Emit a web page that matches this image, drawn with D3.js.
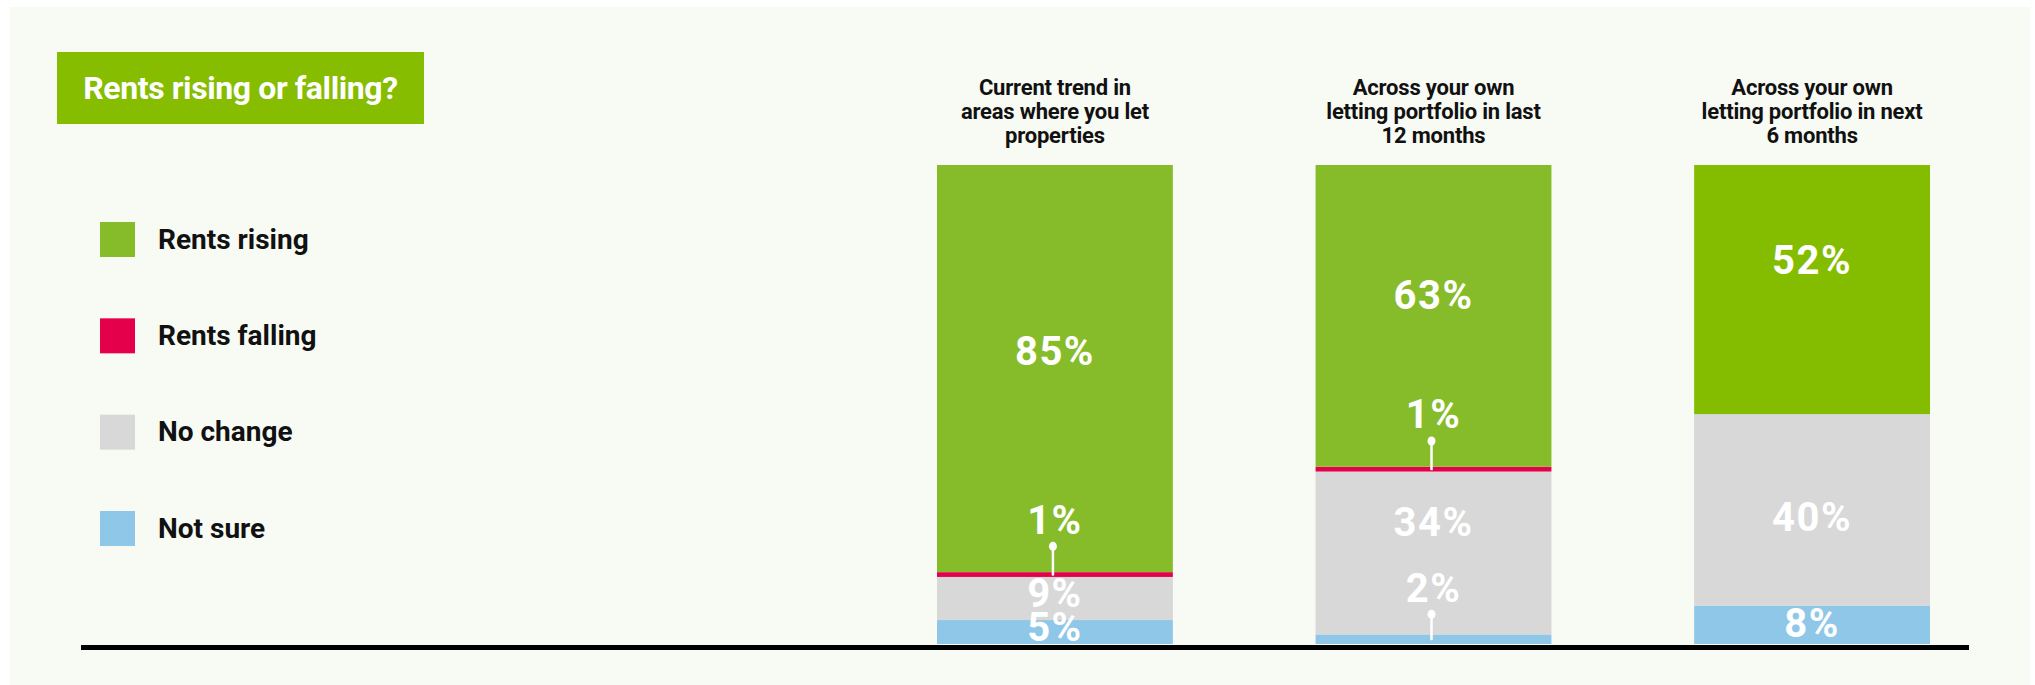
<!DOCTYPE html>
<html>
<head>
<meta charset="utf-8">
<script src="https://cdn.jsdelivr.net/npm/d3@7"></script>
<style>
  html, body { margin: 0; padding: 0; background: #ffffff; }
  svg { display: block; }
  text { font-family: Roboto, "Open Sans", sans-serif; }
</style>
</head>
<body>
<svg id="chart" width="2035" height="685"></svg>
<script>
// ---------------- DATA ----------------
const title = "Rents rising or falling?";
const categories = [
  ["Current trend in", "areas where you let", "properties"],
  ["Across your own", "letting portfolio in last", "12 months"],
  ["Across your own", "letting portfolio in next", "6 months"]
];
const seriesNames = ["Rents rising", "Rents falling", "No change", "Not sure"];
const rentsRising  = [85, 63, 52];
const rentsFalling = [1, 1, 0];
const noChange     = [9, 34, 40];
const notSure      = [5, 2, 8];
const yTicks = [0, 100];

// ---------------- STYLE / LAYOUT ----------------
const colors = {
  "Rents rising": "#86bc29",
  "Rents falling": "#e4004b",
  "No change": "#d7d8d7",
  "Not sure": "#8fc7e8"
};
const risingAlt = "#84bd00"; // third column's green is a touch more saturated

// annotation placement (baseline of each value label, in axis percent)
const labelBaseline = {
  "Rents rising":  [58.2, 69.9, 77.2],
  "Rents falling": [23.0, 45.0, null],
  "No change":     [7.7, 22.5, 23.6],
  "Not sure":      [0.6, 8.8, 1.5]
};
const pinned = {
  "Rents falling": [true, true, false],
  "Not sure": [false, true, false]
};

const svg = d3.select("#chart");

// background panel
svg.append("rect").attr("x", 10).attr("y", 7).attr("width", 2020).attr("height", 678)
  .attr("fill", "#f8faf4");

// title box
const tg = svg.append("g");
tg.append("rect").attr("x", 57).attr("y", 52).attr("width", 367).attr("height", 72).attr("fill", "#86bd00");
tg.append("text").attr("x", 240.5).attr("y", 99).attr("text-anchor", "middle")
  .attr("fill", "#ffffff").attr("font-weight", 700).attr("font-size", 32)
  .attr("letter-spacing", -0.4)
  .text(title);

// legend
const legend = svg.append("g");
const legendY = d3.scalePoint().domain(seriesNames).range([239.5, 528.5]);
seriesNames.forEach(name => {
  const cy = legendY(name);
  legend.append("rect").attr("x", 100).attr("y", cy - 17.5).attr("width", 35).attr("height", 35)
    .attr("fill", colors[name]);
  legend.append("text").attr("x", 158).attr("y", cy + 9).attr("font-size", 28)
    .attr("font-weight", 700).attr("fill", "#111111").attr("letter-spacing", 0).text(name);
});

// scales
const x = d3.scaleBand().domain(d3.range(categories.length)).range([937, 1930])
  .paddingInner(0.377).paddingOuter(0);
const y = d3.scaleLinear().domain([yTicks[0], yTicks[1]]).range([644, 165]);

// stack (bottom to top)
const rows = categories.map((c, i) => ({
  i,
  "Rents rising": rentsRising[i],
  "Rents falling": rentsFalling[i],
  "No change": noChange[i],
  "Not sure": notSure[i]
}));
const stackOrder = ["Not sure", "No change", "Rents falling", "Rents rising"];
const stacked = d3.stack().keys(stackOrder)(rows);

const barsG = svg.append("g");
stacked.forEach(layer => {
  barsG.selectAll(null).data(layer).enter().append("rect")
    .attr("x", d => x(d.data.i))
    .attr("width", x.bandwidth())
    .attr("y", d => y(d[1]))
    .attr("height", d => y(d[0]) - y(d[1]))
    .attr("fill", d => (layer.key === "Rents rising" && d.data.i === 2) ? risingAlt : colors[layer.key]);
});

// value labels
const labG = svg.append("g");
stacked.forEach(layer => {
  layer.forEach(d => {
    const i = d.data.i;
    const v = d.data[layer.key];
    const lb = labelBaseline[layer.key][i];
    if (!v || lb == null) return;
    const cx = x(i) + x.bandwidth() / 2;
    const by = y(lb);
    labG.append("text").attr("x", cx).attr("y", by).attr("text-anchor", "middle")
      .attr("fill", "#ffffff").attr("font-weight", 700).attr("font-size", 40)
      .attr("letter-spacing", 1.5)
      .text(v + "%");
    if (pinned[layer.key] && pinned[layer.key][i]) {
      const py = by + 12.5;
      const ty = y((d[0] + d[1]) / 2) + 1;
      labG.append("line").attr("x1", cx - 2).attr("x2", cx - 2).attr("y1", py).attr("y2", ty)
        .attr("stroke", "#ffffff").attr("stroke-width", 2.5);
      labG.append("ellipse").attr("cx", cx - 2).attr("cy", py).attr("rx", 4).attr("ry", 4.5)
        .attr("fill", "#ffffff");
    }
  });
});

// column headers
const hg = svg.append("g");
categories.forEach((lines, i) => {
  const t = hg.append("text").attr("text-anchor", "middle").attr("font-size", 22)
    .attr("font-weight", 700).attr("fill", "#111111").attr("letter-spacing", -0.2);
  lines.forEach((ln, k) => {
    t.append("tspan").attr("x", x(i) + x.bandwidth() / 2).attr("y", 95 + k * 24).text(ln);
  });
});

// baseline axis
svg.append("line").attr("x1", 81).attr("x2", 1969).attr("y1", y(0) + 3.5).attr("y2", y(0) + 3.5)
  .attr("stroke", "#000000").attr("stroke-width", 5);
</script>
</body>
</html>
